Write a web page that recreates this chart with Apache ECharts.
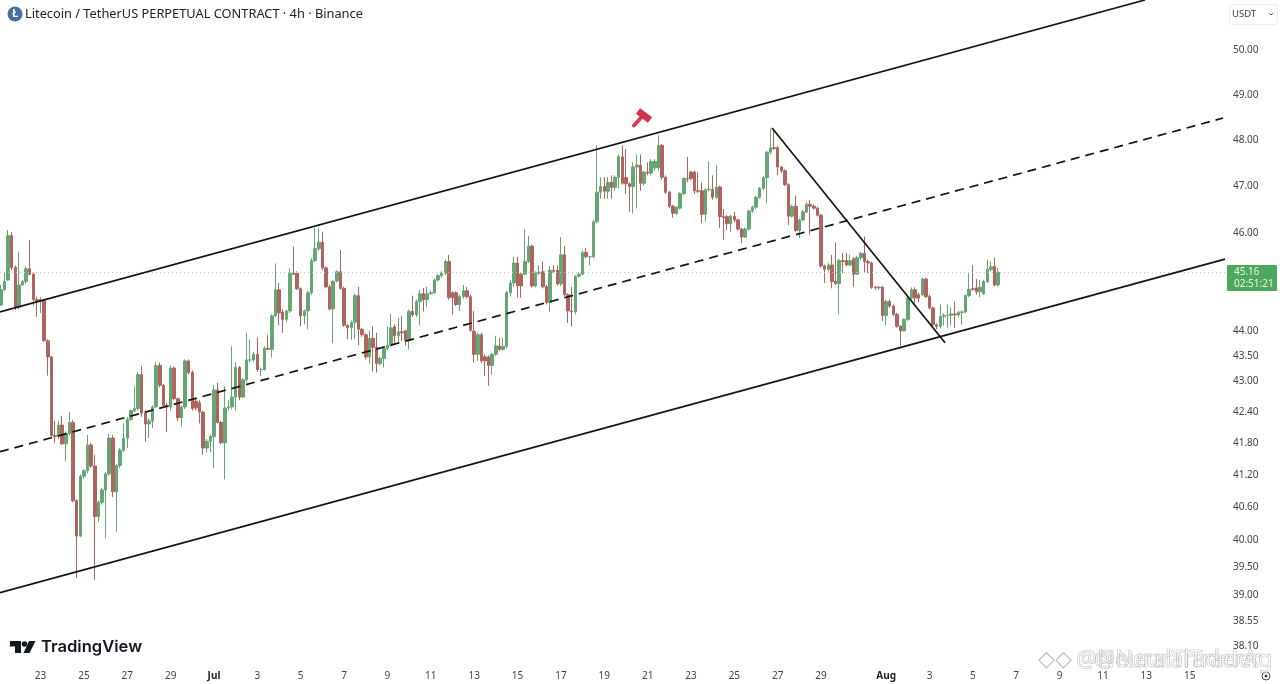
<!DOCTYPE html>
<html><head><meta charset="utf-8">
<style>html,body{margin:0;padding:0;background:#fff}#c{width:1280px;height:684px}</style>
<script src="https://cdn.jsdelivr.net/npm/echarts@6/dist/echarts.min.js"></script>
</head><body><div id="c"></div>
<script>
const title = 'Litecoin / TetherUS PERPETUAL CONTRACT · 4h · Binance';
const firstBar = '2025-06-21T04:00:00Z';
const barHours = 4;
const lastPrice = 45.16;
const priceTicks = [50,49,48,47,46,44,43.5,43,42.4,41.8,41.2,40.6,40,39.5,39,38.55,38.1];
const dayTicks = ['06-23','06-25','06-27','06-29','07-01','07-03','07-05','07-07','07-09','07-11','07-13','07-15','07-17','07-19','07-21','07-23','07-25','07-27','07-29','08-01','08-03','08-05','08-07','08-09','08-11','08-13','08-15'];
// open, close, low, high
const ohlc = [
[44.49,44.80,44.47,44.9],[44.80,44.97,44.78,45.17],[45.0,45.92,44.98,46.04],[45.92,45.26,45.2,46.0],[45.26,44.45,44.39,45.3],
[44.45,44.9,44.4,45.59],[44.9,44.97,44.88,45.0],[44.97,45.23,44.92,45.28],[45.23,45.12,45.1,45.83],[45.12,44.6,44.48,45.15],
[44.6,44.56,44.25,44.66],[44.56,44.6,44.33,44.65],[44.58,43.77,43.75,44.62],[43.77,43.45,43.08,43.8],[43.45,41.92,41.9,43.47],
[41.92,41.9,41.78,42.2],[41.9,42.12,41.85,42.2],[42.12,41.76,41.74,42.3],[41.76,41.96,41.43,42.0],[41.96,42.17,41.92,42.37],
[42.17,40.69,40.66,42.22],[40.69,40.04,39.28,40.72],[40.04,41.15,40.02,41.18],[41.15,41.25,41.1,41.28],[41.25,41.74,41.2,41.93],
[41.74,41.34,41.3,41.78],[41.34,40.4,39.25,41.55],[40.4,40.66,40.3,40.7],[40.66,40.89,40.62,40.93],[40.89,41.19,40.0,41.23],
[41.19,41.87,41.15,41.95],[41.87,40.86,40.76,41.93],[40.86,41.35,40.12,41.38],[41.35,41.64,41.3,41.68],[41.64,41.87,41.6,42.15],
[41.87,42.23,41.68,42.27],[42.23,42.4,42.2,42.42],[42.4,42.44,42.37,42.87],[42.44,43.1,42.4,43.15],[43.1,42.35,42.28,43.27],
[42.35,42.14,41.8,42.4],[42.14,42.2,41.87,42.25],[42.2,42.47,42.06,42.5],[42.47,43.28,42.45,43.34],[43.28,42.89,42.85,43.34],
[42.89,42.5,42.47,42.92],[42.5,42.47,41.99,42.55],[42.47,43.23,42.4,43.28],[43.23,42.63,42.6,43.26],[42.63,42.26,42.2,42.65],
[42.26,42.47,42.09,42.5],[42.47,43.37,42.43,43.4],[43.37,43.14,43.1,43.4],[43.14,42.44,42.4,43.18],[42.58,42.45,42.4,42.62],
[42.55,42.37,42.15,42.6],[42.37,41.68,41.55,42.4],[41.68,41.81,41.6,41.85],[41.81,41.9,41.6,41.93],[41.9,42.8,41.3,42.9],
[42.8,42.17,42.15,42.94],[42.17,41.78,41.75,42.2],[41.78,42.45,41.09,42.87],[42.45,42.47,42.4,42.6],[42.47,42.66,42.42,43.66],
[42.66,43.24,42.4,43.34],[43.24,42.66,42.6,43.27],[42.66,43.0,42.65,43.03],[43.0,43.39,42.96,43.93],[43.39,43.39,43.35,43.8],
[43.39,43.5,43.35,43.55],[43.5,43.2,43.15,43.84],[43.2,43.2,43.07,43.24],[43.2,43.62,43.18,43.66],[43.62,43.6,43.58,43.89],
[43.6,44.27,43.44,44.3],[44.27,44.8,44.25,45.34],[44.8,44.33,44.08,44.94],[44.35,44.2,43.93,44.4],[44.2,44.37,44.15,44.4],
[44.37,45.14,44.33,45.24],[45.14,45.12,45.1,45.69],[45.14,44.82,44.8,45.18],[44.82,44.27,44.06,44.85],[44.27,44.37,44.1,44.4],
[44.37,44.74,44.0,44.78],[44.74,45.4,44.7,45.45],[45.4,45.65,45.37,46.08],[45.65,45.78,45.6,46.08],[45.78,45.25,45.2,46.0],
[45.25,44.86,44.83,45.28],[44.86,44.41,44.38,44.9],[44.41,44.97,43.72,45.0],[44.98,45.17,44.95,45.2],[45.17,44.83,44.8,45.62],
[44.83,44.08,44.05,44.87],[44.08,44.03,43.8,44.1],[44.03,44.14,43.79,44.18],[44.14,44.68,43.8,44.72],[44.68,44.0,43.68,44.86],
[44.0,43.89,43.85,44.03],[43.89,43.45,43.4,43.92],[43.45,43.82,43.32,43.97],[43.82,43.64,43.16,44.06],[43.64,43.32,43.14,43.93],
[43.32,43.42,43.28,43.46],[43.42,43.62,43.24,43.66],[43.62,43.68,43.58,44.06],[43.68,44.03,43.65,44.31],[44.05,43.87,43.73,44.1],
[43.87,43.95,43.73,44.23],[43.95,43.93,43.77,44.27],[43.97,43.78,43.67,43.99],[43.78,44.36,43.6,44.4],[44.36,44.29,44.25,44.68],
[44.29,44.56,44.25,44.6],[44.56,44.72,44.08,44.8],[44.72,44.6,44.36,44.84],[44.6,44.72,44.45,44.86],[44.72,44.74,44.7,44.78],
[44.74,45.0,44.72,45.03],[45.0,45.09,44.97,45.12],[45.09,45.14,45.05,45.18],[45.14,45.38,45.1,45.42],[45.38,44.64,44.6,45.52],
[44.74,44.64,44.29,44.77],[44.74,44.5,44.47,44.77],[44.5,44.66,44.37,44.7],[44.66,44.78,44.62,44.9],[44.78,44.66,44.62,44.86],
[44.66,43.98,43.95,44.7],[43.96,43.5,43.34,44.37],[43.5,43.89,43.37,43.93],[43.89,43.37,43.33,43.93],[43.45,43.37,43.07,43.5],
[43.45,43.28,42.88,43.48],[43.28,43.5,43.1,43.53],[43.5,43.67,43.47,43.87],[43.66,43.6,43.57,43.83],[43.6,43.66,43.57,43.83],
[43.66,44.74,43.62,44.78],[44.74,44.94,44.66,45.0],[44.94,45.35,44.86,45.48],[45.35,44.88,44.64,45.48],[45.12,44.88,44.64,45.16],
[45.12,45.38,45.1,46.05],[45.38,45.7,45.35,45.91],[45.7,44.88,44.85,45.73],[44.88,45.14,44.85,45.18],[45.14,45.16,45.1,45.3],
[45.17,44.86,44.83,45.38],[44.86,44.54,44.5,44.9],[44.54,45.2,44.35,45.29],[45.2,45.18,45.15,45.3],[45.2,44.92,44.88,45.3],
[44.92,45.52,44.88,45.89],[45.52,44.7,44.66,45.7],[44.7,44.37,44.13,44.73],[44.37,44.35,44.06,44.86],[44.35,45.08,44.3,45.1],
[45.08,45.12,45.05,45.16],[45.12,45.57,45.1,45.61],[45.57,45.48,45.45,45.66],[45.48,45.48,45.3,45.5],[45.48,46.21,45.45,46.25],
[46.21,46.84,46.18,47.85],[46.84,46.96,46.7,47.16],[46.96,46.86,46.7,47.16],[46.86,47.05,46.7,47.16],[47.05,46.94,46.7,47.2],
[46.94,47.16,46.87,47.2],[47.16,47.6,46.92,47.65],[47.6,47.03,47.0,47.85],[47.15,47.02,46.8,47.77],[47.02,46.96,46.42,47.05],
[46.96,47.38,46.39,47.48],[47.38,47.42,46.5,47.65],[47.42,47.03,46.87,47.65],[47.03,47.27,46.98,47.3],[47.27,47.25,47.2,47.48],
[47.25,47.5,47.2,47.55],[47.36,47.5,47.3,47.55],[47.36,47.85,47.3,48.07],[47.85,47.16,47.1,47.88],[47.16,46.84,46.8,47.2],
[46.84,46.54,46.5,46.87],[46.54,46.39,46.3,46.57],[46.39,46.52,46.35,46.55],[46.5,46.81,46.47,46.84],[46.81,47.13,46.78,47.16],
[47.13,47.12,47.05,47.6],[47.27,47.13,47.1,47.3],[47.27,46.87,46.8,47.3],[46.87,46.86,46.82,47.27],[46.87,46.37,46.18,47.05],
[46.37,46.89,46.22,46.93],[46.89,46.9,46.85,47.5],[46.9,46.73,46.68,47.2],[46.73,46.95,46.7,47.42],[46.95,46.32,46.08,46.98],
[46.32,46.3,45.83,46.48],[46.32,46.17,46.04,46.35],[46.17,46.33,46.0,46.36],[46.33,46.25,46.2,46.42],[46.25,46.06,46.02,46.28],
[46.06,45.89,45.76,46.09],[45.89,46.06,45.87,46.09],[46.06,46.44,46.02,46.47],[46.44,46.52,46.4,46.55],[46.52,46.73,46.48,46.76],
[46.73,46.92,46.7,46.95],[46.92,47.15,46.88,47.18],[47.15,47.7,46.6,47.73],[47.7,47.8,47.65,48.22],[47.8,47.78,47.75,48.2],
[47.8,47.38,47.2,47.83],[47.38,47.3,47.25,47.4],[47.3,47.0,46.97,47.33],[47.0,46.33,46.14,47.03],[46.33,46.54,46.3,46.57],
[46.54,46.03,46.0,46.77],[46.03,46.25,45.87,46.28],[46.25,46.42,46.22,46.46],[46.42,46.58,46.4,46.62],[46.58,46.54,45.94,46.67],
[46.54,46.5,46.47,46.58],[46.5,46.35,46.32,46.53],[46.35,45.29,45.25,46.38],[45.29,45.22,44.94,45.32],[45.22,45.31,45.18,45.35],
[45.31,44.97,44.83,45.52],[44.97,44.93,44.9,45.78],[44.93,45.4,44.3,45.44],[45.4,45.38,45.14,45.56],[45.4,45.31,45.28,45.56],
[45.31,45.4,45.28,45.52],[45.44,45.12,44.86,45.47],[45.12,45.46,45.1,45.5],[45.46,45.55,45.4,45.58],[45.55,45.38,45.14,45.9],
[45.38,45.35,45.14,45.42],[45.35,44.85,44.82,45.38],[44.85,44.84,44.8,44.88],[44.85,44.84,44.8,44.88],[44.85,44.28,44.17,44.88],
[44.28,44.56,44.08,44.6],[44.56,44.47,44.43,44.6],[44.47,44.3,44.27,44.5],[44.3,44.06,44.03,44.33],[44.06,43.97,43.67,44.08],
[43.97,44.2,43.95,44.22],[44.2,44.63,44.17,44.66],[44.63,44.8,44.6,44.85],[44.8,44.63,44.53,44.85],[44.7,44.63,44.55,44.75],
[44.7,45.02,44.67,45.05],[45.02,44.66,44.63,45.05],[44.66,44.43,44.4,44.7],[44.43,44.09,44.06,44.46],[44.09,44.06,44.0,44.12],
[44.06,44.26,44.02,44.5],[44.26,44.28,44.08,44.32],[44.28,44.28,44.03,44.5],[44.28,44.31,44.08,44.44],[44.31,44.29,44.03,44.56],
[44.29,44.34,44.24,44.37],[44.34,44.35,44.09,44.38],[44.35,44.68,44.32,44.71],[44.68,44.81,44.65,45.14],[44.82,44.81,44.78,45.31],
[44.84,44.76,44.7,45.02],[44.76,44.85,44.65,45.0],[44.72,44.97,44.7,45.0],[44.97,45.22,44.94,45.42],[45.22,45.27,45.18,45.38],
[45.28,44.9,44.87,45.46],[44.9,45.16,44.86,45.25]
];
// channel lines and the falling trend line: [start time, start price, end time, end price]
const upperChannel = ['2025-06-21T03:07:00Z',44.35,'2025-08-12T22:30:00Z',51.13];
const midChannel = ['2025-06-21T03:07:00Z',41.61,'2025-08-16T13:00:00Z',48.45];
const lowerChannel = ['2025-06-21T03:07:00Z',39.02,'2025-08-16T15:07:00Z',45.43];
const fallingLine = ['2025-07-26T17:45:00Z',48.23,'2025-08-03T17:15:00Z',43.73];

const t0 = Date.parse(firstBar);
const candleData = ohlc.map((r,i)=>[t0+i*barHours*3600e3,r[0],r[1],r[2],r[3]]);
const dayValues = dayTicks.map(d=>Date.parse('2025-'+d+'T00:00:00Z'));
const seg = (l,dash)=>({type:'line',data:[[Date.parse(l[0]),l[1]],[Date.parse(l[2]),l[3]]],showSymbol:false,silent:true,z:5,
  lineStyle:{color:'#141414',width:1.7,type:dash?[9,6]:'solid'}});
const GREEN='#66a574', RED='#b0645f';
const wm = {fill:'rgba(255,255,255,.55)',stroke:'rgba(130,130,130,.65)',lineWidth:.7,font:'23.5px "Noto Sans"',verticalAlign:'middle'};
const chart = echarts.init(document.getElementById('c'),null,{renderer:'canvas'});
chart.setOption({
  animation:false, backgroundColor:'#fff',
  title:{text:title,left:20,top:3,textStyle:{fontFamily:'Noto Sans',fontSize:12.8,fontWeight:'normal',color:'#222'}},
  grid:{left:0,right:55,top:0,bottom:24},
  xAxis:{type:'value',min:Date.parse('2025-06-21T03:07:00Z'),max:Date.parse('2025-08-16T15:07:00Z'),
    axisLine:{show:false},axisTick:{show:false},splitLine:{show:false},
    axisLabel:{customValues:dayValues,margin:11,color:'#444',fontFamily:'Noto Sans',fontSize:10,hideOverlap:false,
      formatter:v=>{const d=new Date(v);if(d.getUTCDate()===1)return '{b|'+['Jul','Aug'][d.getUTCMonth()-6]+'}';return String(d.getUTCDate());},
      rich:{b:{fontWeight:'bold',fontSize:10,color:'#222',fontFamily:'Noto Sans'}}}},
  yAxis:{type:'log',logBase:10,position:'right',min:37.84,max:51.13,
    axisLine:{show:false},axisTick:{show:false},splitLine:{show:false},minorTick:{show:false},
    axisLabel:{customValues:priceTicks,margin:8,
      formatter:v=>'{a|'+(+v).toFixed(2)+'}',
      rich:{a:{color:'#444',fontFamily:'Noto Sans',fontSize:10,padding:[3,0,0,0]}}}},
  series:[
    {type:'candlestick',data:candleData,barWidth:3,silent:true,z:3,clip:true,
     itemStyle:{color:GREEN,color0:RED,borderColor:GREEN,borderColor0:RED,borderWidth:1},
     markLine:{silent:true,symbol:'none',label:{show:false},animation:false,
       lineStyle:{color:'#bcc8bd',type:[1,3],width:1},data:[{yAxis:lastPrice}]}},
    seg(upperChannel),seg(midChannel,true),seg(lowerChannel),seg(fallingLine)
  ],
  graphic:[
    {type:'circle',shape:{cx:15,cy:14,r:7.5},style:{fill:'#4a6fa5'},silent:true},
    {type:'text',style:{x:15,y:14,text:'Ł',fill:'#fff',font:'bold 11px "Noto Sans"',align:'center',verticalAlign:'middle'},silent:true},
    {type:'rect',shape:{x:1229.5,y:4.5,width:48,height:20,r:3},style:{fill:'#fff',stroke:'#ececec'},silent:true},
    {type:'text',style:{x:1232,y:14.5,text:'USDT',fill:'#444',font:'9.5px "Noto Sans"',verticalAlign:'middle'},silent:true},
    {type:'polyline',shape:{points:[[1269,13],[1271,15],[1273,13]]},style:{stroke:'#666',fill:null,lineWidth:1},silent:true},
    {type:'rect',shape:{x:1227,y:265,width:50,height:26,r:1},style:{fill:'#4ca85a'},silent:true},
    {type:'text',style:{x:1234,y:272,text:'45.16',fill:'#e9f6ea',font:'10px "Noto Sans"',verticalAlign:'middle'},silent:true},
    {type:'text',style:{x:1234,y:284,text:'02:51:21',fill:'#e9f6ea',font:'10px "Noto Sans"',verticalAlign:'middle'},silent:true},
    {type:'line',shape:{x1:634,y1:125.5,x2:643,y2:115.5},style:{stroke:'#d4404f',lineWidth:4,lineCap:'round'},silent:true},
    {type:'line',shape:{x1:638,y1:111,x2:650,y2:120},style:{stroke:'#d4324a',lineWidth:7},silent:true},
    {type:'polygon',shape:{points:[[10,641],[21,641],[21,653],[15,653],[15,646.5],[10,646.5]]},style:{fill:'#131722'},silent:true},
    {type:'circle',shape:{cx:24.5,cy:644,r:2.8},style:{fill:'#131722'},silent:true},
    {type:'polygon',shape:{points:[[29,641],[35.5,641],[29.5,653],[23.5,653]]},style:{fill:'#131722'},silent:true},
    {type:'text',style:{x:41,y:647,text:'TradingView',fill:'#131722',font:'600 16.6px Inter',verticalAlign:'middle'},silent:true},
    {type:'circle',shape:{cx:1266,cy:676,r:4},style:{fill:'none',stroke:'#444',lineWidth:1},silent:true},
    {type:'circle',shape:{cx:1266,cy:676,r:1.5},style:{fill:'#444'},silent:true},
    {type:'text',style:{x:1038,y:660,text:'◇◇',fill:'rgba(150,150,150,.6)',font:'22px "DejaVu Sans"',verticalAlign:'middle'},z:20,silent:true},
    {type:'text',style:Object.assign({x:1076,y:660,text:'@NeuralTraderAg'},wm),z:20,silent:true},
    {type:'text',style:Object.assign({x:1094,y:660,text:'@NeuralTrader'},wm),z:20,silent:true}
  ]
});
</script></body></html>
